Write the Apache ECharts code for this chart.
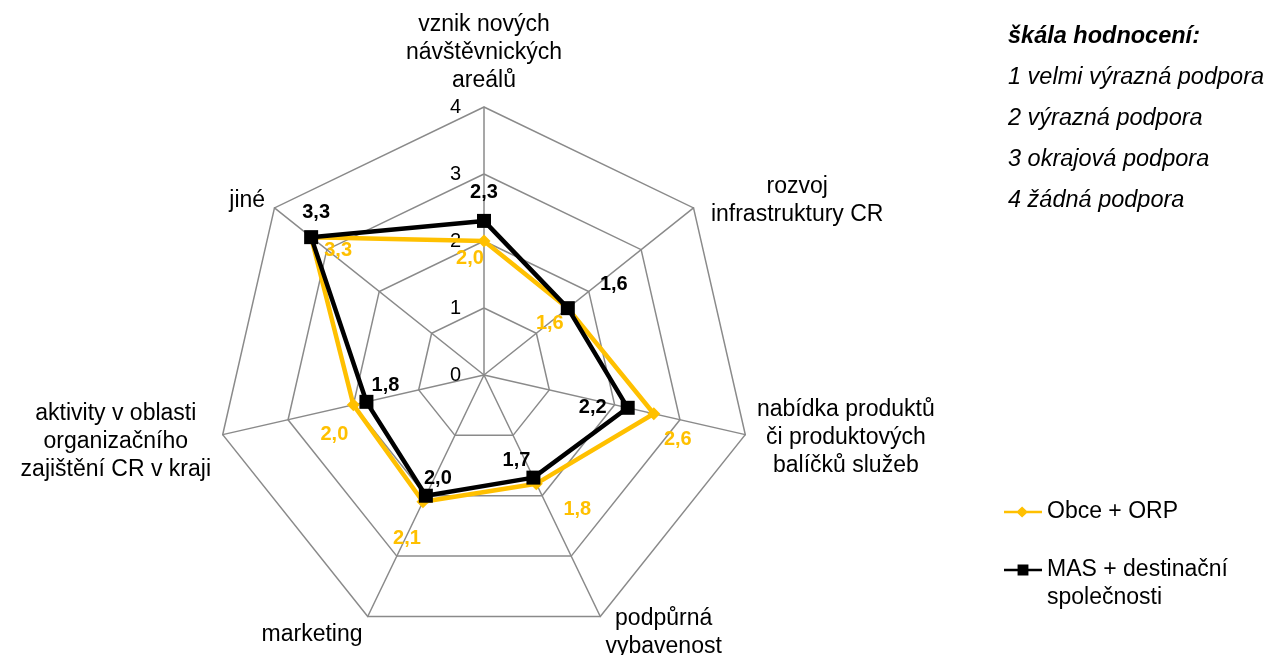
<!DOCTYPE html>
<html>
<head>
<meta charset="utf-8">
<script src="https://cdn.jsdelivr.net/npm/echarts@6/dist/echarts.min.js"></script>
<style>
  html, body { margin: 0; padding: 0; background: #fff; }
  #chart { width: 1271px; height: 655px; }
</style>
</head>
<body>
<div id="chart"></div>
<script>
// categories in clockwise order starting at the top
const categories = [
  'vznik nových\nnávštěvnických\nareálů',
  'rozvoj\ninfrastruktury CR',
  'nabídka produktů\nči produktových\nbalíčků služeb',
  'podpůrná\nvybavenost',
  'marketing',
  'aktivity v oblasti\norganizačního\nzajištění CR v kraji',
  'jiné'
]
const obceValues = [2.0, 1.6, 2.6, 1.8, 2.1, 2.0, 3.3]
const masValues = [2.3, 1.6, 2.2, 1.7, 2.0, 1.8, 3.3]
const seriesNames = ['Obce + ORP', 'MAS + destinační\nspolečnosti']
const scaleTitle = 'škála hodnocení:'
const scaleLines = ['1 velmi výrazná podpora', '2 výrazná podpora', '3 okrajová podpora', '4 žádná podpora']
const axisMax = 4

const FONT = "'Liberation Sans', Arial, sans-serif"
const ORANGE = '#FFC000'
const FS = 23

// echarts draws radar indicators counter-clockwise, so reverse all but the first
const order = [0, 6, 5, 4, 3, 2, 1]
const reorder = (arr) => order.map((i) => arr[i])

// label shifts (px) per category, relative to the point
const masLabelShift = [[0, -28], [46, -24], [-35, 0], [-17, -17], [12, -17], [19, -16], [5, -25]]
const obceLabelShift = [[-14, 17], [-18, 15], [24, 26], [41, 26], [-16, 37], [-19, 30], [27, 13]]
// extra padding for some category names
const namePadding = {
  1: [0, 0, 0, 8],
  3: [10, 0, 0, 0],
  4: [14, 0, 0, 0],
  5: [8, 0, 0, 0],
}

function shiftRich(shifts, color) {
  const rich = {}
  shifts.forEach(([dx, dy], i) => {
    rich['p' + i] = {
      color: color,
      fontSize: 20,
      fontWeight: 'bold',
      fontFamily: FONT,
      padding: [Math.max(0, 2 * dy), Math.max(0, -2 * dx), Math.max(0, -2 * dy), Math.max(0, 2 * dx)],
    }
  })
  return rich
}

function makeLabel(shifts, color) {
  let counter = 0
  return {
    show: true,
    position: 'inside',
    formatter: (params) => {
      const dim = params.dimensionIndex != null ? params.dimensionIndex : (counter++ % 7)
      const idx = order[dim]
      return '{p' + idx + '|' + Number(params.value).toFixed(1).replace('.', ',') + '}'
    },
    rich: shiftRich(shifts, color),
  }
}

const indicators = order.map((ci, i) => {
  const ind = { name: categories[ci], min: 0, max: axisMax }
  if (i === 0) ind.axisLabel = { show: true }
  if (namePadding[ci]) ind.nameTextStyle = { padding: namePadding[ci] }
  return ind
})

const chart = echarts.init(document.getElementById('chart'))

const option = {
  backgroundColor: '#fff',
  animation: false,
  title: {
    left: 1003,
    top: 11,
    text: '{b|' + scaleTitle + '}\n' + scaleLines.map((s) => '{i|' + s + '}').join('\n'),
    textStyle: {
      rich: {
        b: { fontFamily: FONT, fontSize: 23.5, fontWeight: 'bold', fontStyle: 'italic', color: '#000', lineHeight: 41 },
        i: { fontFamily: FONT, fontSize: 23.5, fontWeight: 'normal', fontStyle: 'italic', color: '#000', lineHeight: 41 },
      },
    },
  },
  legend: [
    {
      orient: 'vertical',
      left: 999,
      top: 493,
      itemWidth: 38,
      itemHeight: 12,
      itemGap: 3,
      data: [{ name: seriesNames[0], icon: 'path://M0,4.5H15L20,0L25,4.5H42V7.5H25L20,12L15,7.5H0Z' }],
      textStyle: { fontFamily: FONT, fontSize: FS, color: '#000', lineHeight: 28 },
    },
    {
      orient: 'vertical',
      left: 999,
      top: 523,
      itemWidth: 38,
      itemHeight: 12,
      itemGap: 3,
      // a blank first line keeps the icon level with the first text line
      formatter: (name) => '\n' + name,
      data: [{ name: seriesNames[1], icon: 'path://M0,4.5H15V0H27V4.5H42V7.5H27V12H15V7.5H0Z' }],
      textStyle: { fontFamily: FONT, fontSize: FS, color: '#000', lineHeight: 28 },
    },
  ],
  radar: {
    center: [484, 375],
    radius: 268,
    startAngle: 90,
    shape: 'polygon',
    splitNumber: 4,
    indicator: indicators,
    axisName: {
      color: '#000',
      fontSize: FS,
      fontFamily: FONT,
      lineHeight: 28,
      formatter: (name) => '{c|' + name + '}',
      rich: { c: { align: 'center', fontSize: FS, fontFamily: FONT, color: '#000', lineHeight: 28 } },
    },
    nameGap: 12,
    axisLine: { lineStyle: { color: '#8a8a8a', width: 1.5 } },
    splitLine: { lineStyle: { color: '#8a8a8a', width: 1.5 } },
    splitArea: { show: false },
    axisTick: { show: false },
    axisLabel: { show: false, color: '#000', fontSize: 20, fontFamily: FONT, margin: 23 },
  },
  series: [
    {
      type: 'radar',
      z: 2,
      data: [
        {
          name: seriesNames[0],
          value: reorder(obceValues),
          symbol: 'diamond',
          symbolSize: 13,
          itemStyle: { color: ORANGE, borderWidth: 0 },
          lineStyle: { color: ORANGE, width: 4.5 },
          label: makeLabel(obceLabelShift, ORANGE),
        },
      ],
    },
    {
      type: 'radar',
      z: 3,
      data: [
        {
          name: seriesNames[1],
          value: reorder(masValues),
          symbol: 'rect',
          symbolSize: 14,
          itemStyle: { color: '#000', borderWidth: 0 },
          lineStyle: { color: '#000', width: 4.5 },
          label: makeLabel(masLabelShift, '#000'),
        },
      ],
    },
  ],
}

chart.setOption(option)
</script>
</body>
</html>
